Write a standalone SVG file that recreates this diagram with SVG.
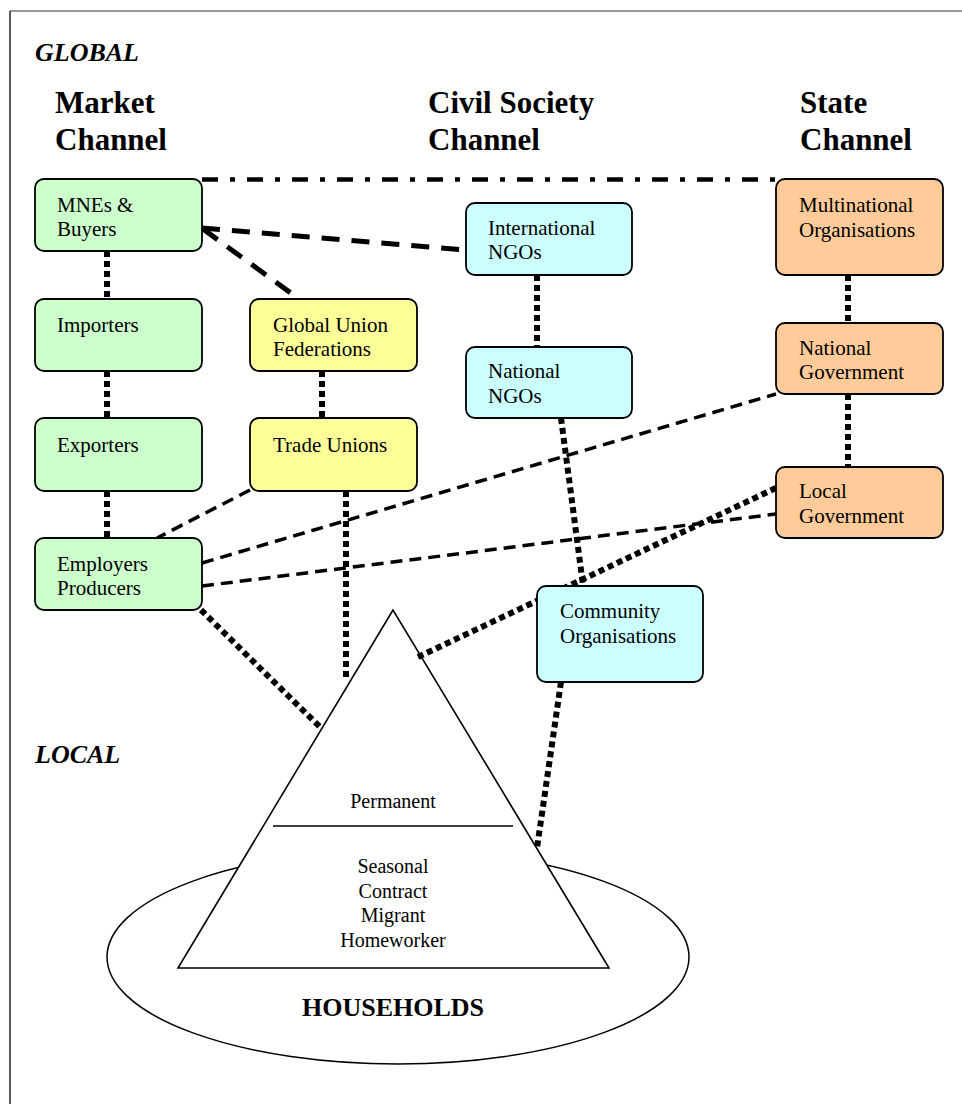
<svg xmlns="http://www.w3.org/2000/svg" width="962" height="1104" viewBox="0 0 962 1104">
<style>
  text { font-family: "Liberation Serif", "Times New Roman", serif; fill: #000; }
  .hdr { font-size: 31px; font-weight: bold; }
  .zone { font-size: 26px; font-weight: bold; font-style: italic; }
  .lbl { font-size: 21px; }
  .tri { font-size: 20px; text-anchor: middle; }
  .box { stroke: #000; stroke-width: 1.8; }
  .green { fill: #CCFFCC; }
  .yellow { fill: #FFFF99; }
  .cyan { fill: #CCFFFF; }
  .orange { fill: #FFCC99; }
  .dot { fill: none; stroke: #000; stroke-width: 6; stroke-dasharray: 6 4; }
  .dashw { fill: none; stroke: #000; stroke-width: 5; stroke-dasharray: 18 12; }
  .dasht { fill: none; stroke: #000; stroke-width: 3.5; stroke-dasharray: 12 7; }
  .dashdot { fill: none; stroke: #000; stroke-width: 4.3; stroke-dasharray: 16 12 5 12; }
</style>
<rect x="0" y="0" width="962" height="1104" fill="#fff"/>
<g id="frame">
  <line x1="10" y1="11" x2="962" y2="11" stroke="#777" stroke-width="1.5"/>
  <line x1="10" y1="11" x2="10" y2="1104" stroke="#222" stroke-width="1.5"/>
</g>
<g id="headings">
  <text class="zone" x="35" y="61">GLOBAL</text>
  <text class="hdr" x="55" y="113">Market</text>
  <text class="hdr" x="55" y="150">Channel</text>
  <text class="hdr" x="428" y="113">Civil Society</text>
  <text class="hdr" x="428" y="150">Channel</text>
  <text class="hdr" x="800" y="113">State</text>
  <text class="hdr" x="800" y="150">Channel</text>
  <text class="zone" x="35" y="763">LOCAL</text>
</g>
<g id="households">
  <ellipse cx="398" cy="957" rx="291" ry="107" fill="#fff" stroke="#000" stroke-width="1.5"/>
  <text x="302" y="1016" style="font-size:26px;font-weight:bold">HOUSEHOLDS</text>
</g>
<g id="workforce">
  <polygon points="393,610 178,968 609,968" fill="#fff" stroke="#000" stroke-width="1.6"/>
  <line x1="273" y1="826" x2="513" y2="826" stroke="#000" stroke-width="1.6"/>
  <text class="tri" x="393" y="808">Permanent</text>
  <text class="tri" x="393" y="873">Seasonal</text>
  <text class="tri" x="393" y="898">Contract</text>
  <text class="tri" x="393" y="922">Migrant</text>
  <text class="tri" x="393" y="947">Homeworker</text>
</g>
<g id="connectors">
  <line class="dashdot" x1="202" y1="179.5" x2="777" y2="179.5"/>
  <line class="dashw" x1="202" y1="228" x2="466" y2="250"/>
  <line class="dashw" x1="203" y1="229" x2="299" y2="299"/>
  <line class="dot" x1="107" y1="251" x2="107" y2="299"/>
  <line class="dot" x1="107" y1="371" x2="107" y2="418"/>
  <line class="dot" x1="107" y1="491" x2="107" y2="538"/>
  <line class="dot" x1="322" y1="371" x2="322" y2="418"/>
  <line class="dot" x1="537" y1="275" x2="537" y2="347"/>
  <line class="dot" x1="848" y1="275" x2="848" y2="323"/>
  <line class="dot" x1="848" y1="394" x2="848" y2="467"/>
  <line class="dasht" x1="250" y1="490" x2="157" y2="538"/>
  <line class="dasht" x1="202" y1="563" x2="776" y2="394"/>
  <line class="dasht" x1="202" y1="586" x2="776" y2="514"/>
  <line class="dot" x1="561" y1="418" x2="583" y2="585"/>
  <line class="dot" x1="776" y1="488" x2="418" y2="657"/>
  <line class="dot" x1="346" y1="491" x2="346" y2="681"/>
  <line class="dot" x1="201" y1="610" x2="321" y2="728"/>
  <line class="dot" x1="561" y1="682" x2="537" y2="848"/>
</g>
<g id="mnes">
  <rect class="box green" x="35" y="179" width="167" height="72" rx="9"/>
  <text class="lbl" x="57" y="212">MNEs &amp;</text>
  <text class="lbl" x="57" y="236">Buyers</text>
</g>
<g id="importers">
  <rect class="box green" x="35" y="299" width="167" height="72" rx="9"/>
  <text class="lbl" x="57" y="332">Importers</text>
</g>
<g id="exporters">
  <rect class="box green" x="35" y="418" width="167" height="73" rx="9"/>
  <text class="lbl" x="57" y="452">Exporters</text>
</g>
<g id="employers">
  <rect class="box green" x="35" y="538" width="167" height="72" rx="9"/>
  <text class="lbl" x="57" y="571">Employers</text>
  <text class="lbl" x="57" y="595">Producers</text>
</g>
<g id="guf">
  <rect class="box yellow" x="250" y="299" width="167" height="72" rx="9"/>
  <text class="lbl" x="273" y="332">Global Union</text>
  <text class="lbl" x="273" y="356">Federations</text>
</g>
<g id="trade-unions">
  <rect class="box yellow" x="250" y="418" width="167" height="73" rx="9"/>
  <text class="lbl" x="273" y="452">Trade Unions</text>
</g>
<g id="intl-ngos">
  <rect class="box cyan" x="466" y="203" width="166" height="72" rx="9"/>
  <text class="lbl" x="488" y="235">International</text>
  <text class="lbl" x="488" y="259">NGOs</text>
</g>
<g id="natl-ngos">
  <rect class="box cyan" x="466" y="347" width="166" height="71" rx="9"/>
  <text class="lbl" x="488" y="378">National</text>
  <text class="lbl" x="488" y="403">NGOs</text>
</g>
<g id="community">
  <rect class="box cyan" x="537" y="586" width="166" height="96" rx="9"/>
  <text class="lbl" x="560" y="618">Community</text>
  <text class="lbl" x="560" y="643">Organisations</text>
</g>
<g id="multinational">
  <rect class="box orange" x="776" y="179" width="167" height="96" rx="9"/>
  <text class="lbl" x="799" y="212">Multinational</text>
  <text class="lbl" x="799" y="237">Organisations</text>
</g>
<g id="natl-gov">
  <rect class="box orange" x="776" y="323" width="167" height="71" rx="9"/>
  <text class="lbl" x="799" y="355">National</text>
  <text class="lbl" x="799" y="379">Government</text>
</g>
<g id="local-gov">
  <rect class="box orange" x="776" y="467" width="167" height="71" rx="9"/>
  <text class="lbl" x="799" y="498">Local</text>
  <text class="lbl" x="799" y="523">Government</text>
</g>
</svg>
